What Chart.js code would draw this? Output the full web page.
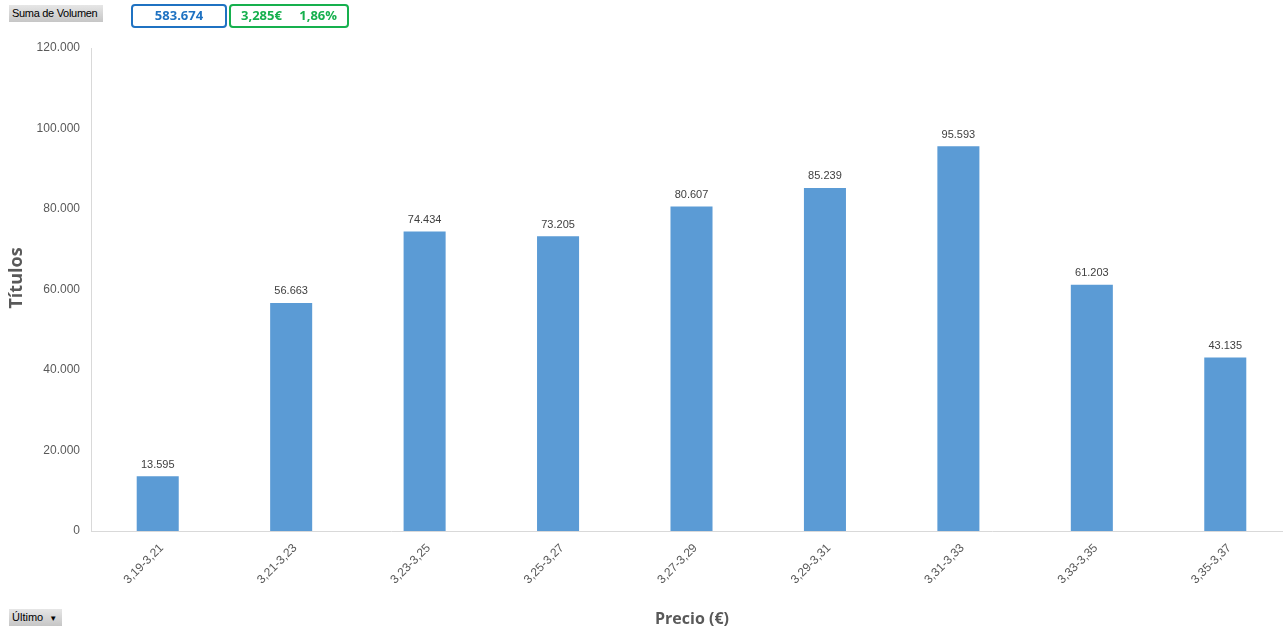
<!DOCTYPE html>
<html><head><meta charset="utf-8">
<script src="https://cdn.jsdelivr.net/npm/chart.js@4.4.1/dist/chart.umd.min.js"></script>
<style>
html,body{margin:0;padding:0;background:#fff;overflow:hidden;}
#wrap{position:relative;width:1283px;height:635px;overflow:hidden;}
canvas{position:absolute;left:0;top:0;}
.btn{position:absolute;background:linear-gradient(#e6e6e6,#c6c6c6);font-family:"Liberation Sans",Arial,sans-serif;font-size:11px;color:#000;line-height:17px;padding:0 3px;box-sizing:border-box;white-space:nowrap;overflow:hidden;}
.box{position:absolute;border:2px solid;border-radius:4px;box-sizing:border-box;font-family:"Open Sans",sans-serif;font-weight:bold;font-size:13px;line-height:19px;text-align:center;white-space:nowrap;}
</style></head><body>
<div id="wrap">
<canvas id="c" width="1292" height="635"></canvas>
<div class="btn" style="left:9px;top:5px;width:94px;height:17px;letter-spacing:-0.3px;">Suma de Volumen</div>
<div class="box" style="left:131px;top:4px;width:96px;height:24px;border-color:#1f72c2;color:#1f72c2;">583.674</div>
<div class="box" style="left:229px;top:4px;width:120px;height:24px;border-color:#16b04e;color:#16b04e;word-spacing:14px;">3,285€ 1,86%</div>
<div class="btn" style="left:9px;top:609px;width:53px;height:17px;">Último <span style="font-size:8px;margin-left:3px;">▼</span></div>
</div>
<script>
const categories = ["3,19-3,21","3,21-3,23","3,23-3,25","3,25-3,27","3,27-3,29","3,29-3,31","3,31-3,33","3,33-3,35","3,35-3,37"];
const volumes = [13595,56663,74434,73205,80607,85239,95593,61203,43135];
const yTicks = [0,20000,40000,60000,80000,100000,120000];

function fmt(v){ return String(Math.round(v)).replace(/\B(?=(\d{3})+(?!\d))/g,"."); }

const labelPlugin = {
  id:'labels',
  afterDatasetsDraw(chart){
    const ctx = chart.ctx;
    const meta = chart.getDatasetMeta(0);
    ctx.save();
    ctx.font = '11px "Liberation Sans", Arial, sans-serif';
    ctx.fillStyle = '#404040';
    ctx.textAlign = 'center';
    ctx.textBaseline = 'bottom';
    meta.data.forEach((bar,i)=>{
      ctx.fillText(fmt(volumes[i]), bar.x, bar.y - 6);
    });
    ctx.restore();
    ctx.save();
    ctx.translate(17, 278);
    ctx.rotate(-Math.PI/2);
    ctx.font = 'bold 18px "Open Sans", sans-serif';
    ctx.fillStyle = '#595959';
    ctx.textAlign = 'center';
    ctx.textBaseline = 'middle';
    ctx.fillText('Títulos', 0, 0);
    ctx.restore();
    ctx.save();
    ctx.font = 'bold 16px "Open Sans", sans-serif';
    ctx.fillStyle = '#595959';
    ctx.textAlign = 'center';
    ctx.textBaseline = 'middle';
    ctx.fillText('Precio (€)', 692, 619);
    ctx.restore();
  }
};

new Chart(document.getElementById('c'), {
  type:'bar',
  data:{labels:categories, datasets:[{data:volumes, backgroundColor:'#5b9bd5', barPercentage:0.315, categoryPercentage:1}]},
  options:{
    responsive:false, animation:false,
    layout:{padding:{left:0,top:48,right:0,bottom:0}},
    plugins:{legend:{display:false}, tooltip:{enabled:false}},
    scales:{
      x:{
        grid:{display:false, drawTicks:false},
        border:{display:true,color:'#d9d9d9'},
        ticks:{minRotation:45,maxRotation:45,autoSkip:false,padding:10,labelOffset:4,color:'#595959',font:{family:'"Liberation Sans", Arial, sans-serif',size:12}},
        title:{display:false},
        afterFit(s){ s.height = 635-531; }
      },
      y:{
        min:0,max:120000,
        afterBuildTicks(s){ s.ticks = yTicks.map(v=>({value:v})); },
        grid:{display:false, drawTicks:false},
        border:{display:true,color:'#d9d9d9'},
        ticks:{padding:11,color:'#595959',font:{family:'"Liberation Sans", Arial, sans-serif',size:12},callback:v=>fmt(v)},
        title:{display:false},
        afterFit(s){ s.width = 91; }
      }
    }
  },
  plugins:[labelPlugin]
});
</script>
</body></html>
